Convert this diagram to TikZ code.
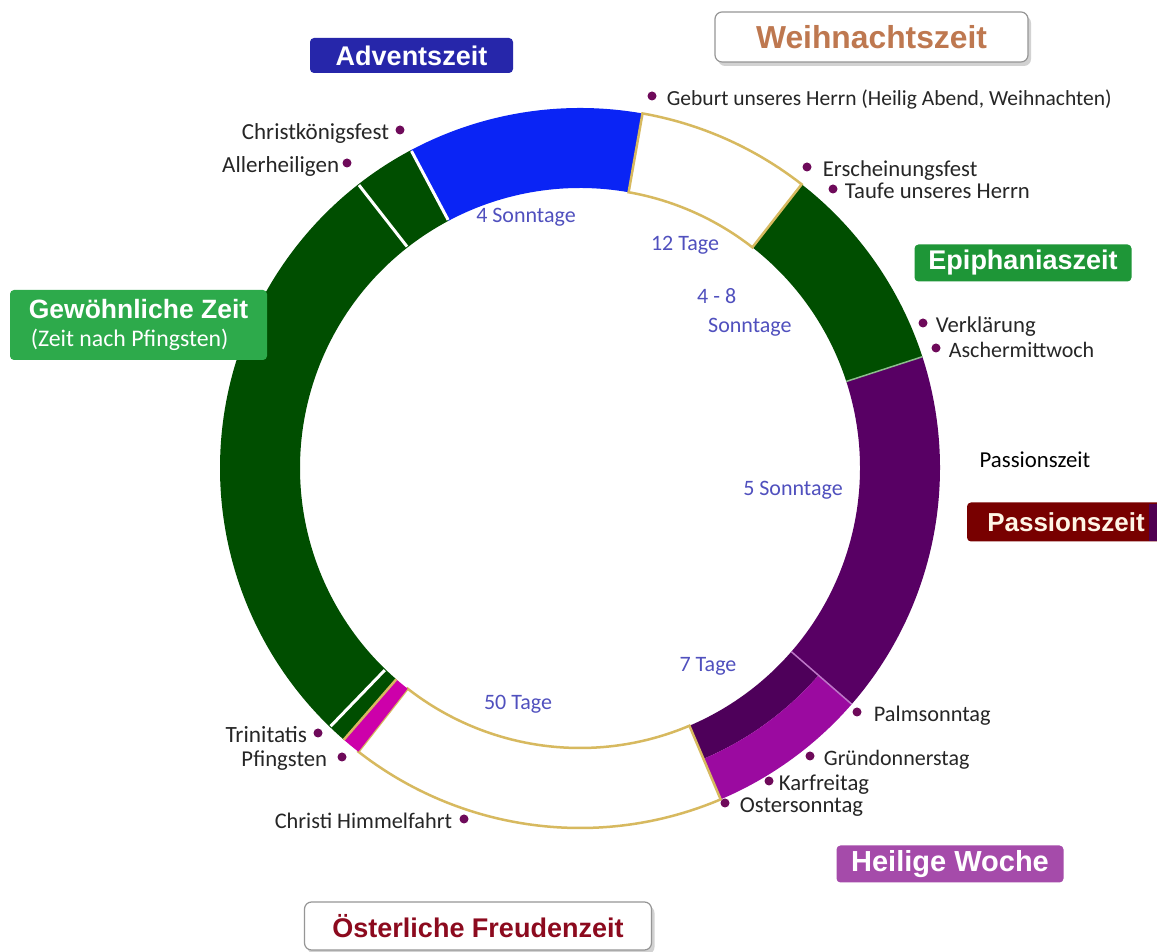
\documentclass[tikz,border=0pt]{standalone}
\usepackage{fontspec}
\setmainfont{Carlito}
\newfontfamily\titlefont{Liberation Sans}
\usepackage{tikz}
\usetikzlibrary{positioning, shadows}

\definecolor{ringgreen}{RGB}{0,78,0}
\definecolor{ringblue}{RGB}{10,36,245}
\definecolor{ringpurple}{RGB}{88,0,100}
\definecolor{holyinner}{RGB}{78,0,90}
\definecolor{holyouter}{RGB}{155,10,160}
\definecolor{pentecost}{RGB}{205,0,170}
\definecolor{ringgold}{RGB}{215,185,95}
\definecolor{seplightgreen}{RGB}{140,190,140}
\definecolor{seplightpurple}{RGB}{190,120,200}
\definecolor{spanblue}{RGB}{80,80,190}
\definecolor{dotpurple}{RGB}{110,10,90}
\definecolor{adventbox}{RGB}{38,38,170}
\definecolor{christmastext}{RGB}{190,120,80}
\definecolor{epiphanybox}{RGB}{30,150,55}
\definecolor{ordinarybox}{RGB}{45,170,75}
\definecolor{passionbox}{RGB}{120,0,0}
\definecolor{passionedge}{RGB}{80,0,80}
\definecolor{holyweekbox}{RGB}{165,75,170}
\definecolor{eastertext}{RGB}{140,10,30}
\definecolor{boxborder}{RGB}{150,150,150}
\definecolor{cream}{RGB}{255,245,230}

\tikzset{
  evdot/.style={circle, fill=dotpurple, inner sep=0pt, minimum size=9pt},
  evlabel/.style={inner sep=0pt, text height=20pt, text depth=0pt, text=black!85,
    font=\fontsize{#1}{#1}\selectfont},
  evlabel/.default=22.7,
  spanlabel/.style={inner sep=0pt, text=spanblue, font=\fontsize{22}{29}\selectfont},
  seasonbox/.style={rounded corners=4pt, inner sep=0pt, text=white,
    font=\titlefont\bfseries\fontsize{#1}{#1}\selectfont},
  seasonbox/.default=27,
  whitebox/.style={seasonbox=#1, fill=white, draw=boxborder, line width=1.2pt,
    rounded corners=7pt, drop shadow={shadow xshift=3pt, shadow yshift=-4pt, opacity=0.35}},
  whitebox/.default=27,
  sepwhite/.style={white, line width=3pt},
  sepgold/.style={ringgold, line width=2.5pt},
}

% ring piece: [style]{start angle}{end angle}{inner radius}{outer radius}
\newcommand{\ringseg}[5][]{%
  \path[#1] (#2:#4pt) arc[start angle=#2, end angle=#3, radius=#4pt]
    -- (#3:#5pt) arc[start angle=#3, end angle=#2, radius=#5pt] -- cycle;}

\begin{document}
\begin{tikzpicture}[x=1pt, y=1pt]

    % --- Canvas ---
    \useasboundingbox[fill=white] (0,0) rectangle (1157,952);

    % --- Church year ring ---
    \coordinate (centre) at (580,484);
    \begin{scope}[shift={(centre)}]
        % coloured seasons first
        \ringseg[fill=ringgreen]{118}{229}{280}{360}
        \ringseg[fill=ringblue]{80}{118}{280}{360}
        \ringseg[fill=ringgreen]{18}{52}{280}{360}
        \ringseg[fill=ringpurple]{-41}{18}{280}{360}
        % holy week: dark inside, bright outside
        \ringseg[fill=holyinner]{-67}{-41}{280}{316}
        \ringseg[fill=holyouter]{-67}{-41}{316}{360}
        % white seasons with gold rim
        \ringseg[fill=white, draw=ringgold, line width=2.5pt]{52}{80}{280}{360}
        \ringseg[fill=white, draw=ringgold, line width=2.5pt]{232}{293}{280}{360}
        \ringseg[fill=pentecost]{229}{232}{280}{360}

        % --- Separators ---
        \draw[sepwhite] (118:281pt) -- (118:359pt);
        \draw[sepwhite] (128:281pt) -- (128:359pt);
        \draw[sepwhite] (226:281pt) -- (226:359pt);
        \draw[sepgold] (229:280pt) -- (229:360pt);
        \draw[seplightgreen, line width=1.5pt] (18:280pt) -- (18:360pt);
        \draw[seplightpurple, line width=1.5pt] (-41:280pt) -- (-41:360pt);
    \end{scope}

    % --- Season boxes ---
    \node[seasonbox=27, fill=adventbox, minimum width=203pt, minimum height=35pt]
        (advent) at (411.5,896.5) {Adventszeit};
    \node[whitebox=31.8, text=christmastext, minimum width=313pt, minimum height=50pt]
        (christmas) at (871.5,915) {Weihnachtszeit};
    \node[seasonbox=27, fill=epiphanybox, minimum width=217pt, minimum height=37pt]
        (epiphany) at (1023,689) {Epiphaniaszeit};
    \node[seasonbox=26.5, fill=ordinarybox, minimum width=257pt, minimum height=70pt, align=left]
        (ordinary) at (138.5,627)
        {Gewöhnliche Zeit\\[1pt]{\normalfont\fontsize{23.8}{26}\selectfont\hspace*{2pt}(Zeit nach Pfingsten)}};
    \node[seasonbox=26, fill=passionbox, text=cream, minimum width=198pt, minimum height=39pt]
        (passion) at (1066,430) {Passionszeit};
    \fill[passionedge] (1149,411) rectangle (1157,448);
    \node[seasonbox=29, fill=holyweekbox, minimum width=227pt, minimum height=37pt]
        (holyweek) at (950,88) {Heilige Woche};
    \node[whitebox=27, text=eastertext, minimum width=347pt, minimum height=48pt]
        (easter) at (478,26) {Österliche Freudenzeit};

    % --- Feast days (dot + name) ---
    \node[evdot] (geburt) at (652,856) {};
    \node[evlabel=21.5, right=10pt of geburt] (geburtL) {Geburt unseres Herrn (Heilig Abend, Weihnachten)};
    \node[evdot] (erscheinung) at (807,785) {};
    \node[evlabel, right=11pt of erscheinung] (erscheinungL) {Erscheinungsfest};
    \node[evdot] (taufe) at (833,763) {};
    \node[evlabel, right=7pt of taufe] (taufeL) {Taufe unseres Herrn};
    \node[evdot] (verklaerung) at (923,629) {};
    \node[evlabel, right=8pt of verklaerung] (verklaerungL) {Verklärung};
    \node[evdot] (ascher) at (936,604) {};
    \node[evlabel=22, right=8pt of ascher] (ascherL) {Aschermittwoch};
    \node[evdot] (palm) at (857,240) {};
    \node[evlabel=22.3, right=12pt of palm] (palmL) {Palmsonntag};
    \node[evdot] (gruendo) at (810,196) {};
    \node[evlabel=22, right=9pt of gruendo] (gruendoL) {Gründonnerstag};
    \node[evdot] (karfreitag) at (769,171) {};
    \node[evlabel, right=5pt of karfreitag] (karfreitagL) {Karfreitag};
    \node[evdot] (oster) at (725,149) {};
    \node[evlabel, right=10pt of oster] (osterL) {Ostersonntag};
    \node[evdot] (himmelfahrt) at (464,133) {};
    \node[evlabel=22.3, left=7pt of himmelfahrt] (himmelfahrtL) {Christi Himmelfahrt};
    \node[evdot] (pfingsten) at (342,195) {};
    \node[evlabel, left=10pt of pfingsten] (pfingstenL) {Pfingsten};
    \node[evdot] (trinitatis) at (318,219) {};
    \node[evlabel=23.3, left=6pt of trinitatis] (trinitatisL) {Trinitatis};
    \node[evdot] (allerheiligen) at (347,789) {};
    \node[evlabel=23, left=3pt of allerheiligen] (allerheiligenL) {Allerheiligen};
    \node[evdot] (christkoenig) at (400,822) {};
    \node[evlabel=23, left=6pt of christkoenig] (christkoenigL) {Christkönigsfest};

    % --- Lengths of the seasons ---
    \node[spanlabel] (adventspan) at (526,735) {4 Sonntage};
    \node[spanlabel] (christmasspan) at (685,707) {12 Tage};
    \node[spanlabel, align=left, anchor=west] (epiphanyspan) at (697,640) {4 - 8\\\hspace*{11pt}Sonntage};
    \node[spanlabel] (passionspan) at (793,462) {5 Sonntage};
    \node[spanlabel] (holyspan) at (708,286) {7 Tage};
    \node[spanlabel] (easterspan) at (518,248) {50 Tage};
    \node[spanlabel, text=black, font=\fontsize{22.8}{26}\selectfont] (passionnote) at (1035,492) {Passionszeit};

\end{tikzpicture}
\end{document}
